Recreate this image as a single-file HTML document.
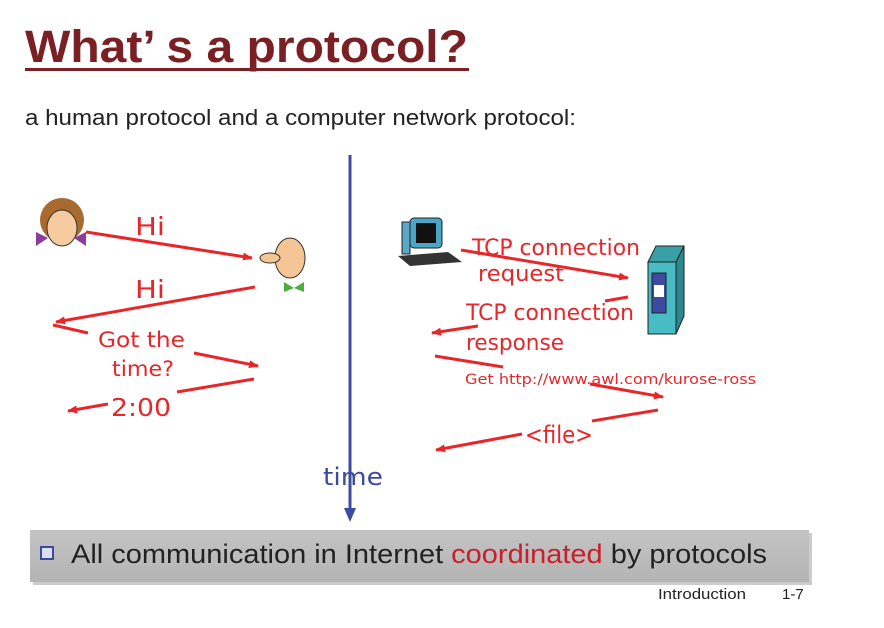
<!DOCTYPE html>
<html><head><meta charset="utf-8"><style>
html,body{margin:0;padding:0;background:#fff;width:884px;height:628px;overflow:hidden}
</style></head><body>
<svg width="884" height="628" viewBox="0 0 884 628" xmlns="http://www.w3.org/2000/svg">
<defs>
<marker id="ar" markerWidth="10" markerHeight="8" refX="9" refY="4" orient="auto" markerUnits="userSpaceOnUse"><path d="M0,0 L10,4 L0,8 z" fill="#e8262a"/></marker>
<linearGradient id="bn" x1="0" y1="0" x2="0" y2="1"><stop offset="0" stop-color="#c4c4c4"/><stop offset="1" stop-color="#b4b4b4"/></linearGradient>
</defs>
<text x="25" y="62" font-family="Liberation Sans, sans-serif" font-weight="bold" font-size="45" fill="#7a1f24" textLength="443" lengthAdjust="spacingAndGlyphs">What’ s a protocol?</text>
<rect x="25" y="68" width="444" height="3" fill="#7a1f24"/>
<text x="25" y="125" font-family="Liberation Sans, sans-serif" font-size="22" fill="#222" textLength="551" lengthAdjust="spacingAndGlyphs">a human protocol and a computer network protocol:</text>

<line x1="350" y1="155" x2="350" y2="510" stroke="#3c4aa0" stroke-width="3"/>
<path d="M344,508 L356,508 L350,522 z" fill="#3c4aa0"/>
<text x="323" y="485" font-family="DejaVu Sans, sans-serif" font-size="24" fill="#3c4aa0" textLength="60" lengthAdjust="spacingAndGlyphs">time</text>

<g>
<ellipse cx="62" cy="220" rx="22" ry="22" fill="#a86a2e"/>
<ellipse cx="62" cy="228" rx="15" ry="18" fill="#f6cba0" stroke="#333" stroke-width="1"/>
<path d="M36,232 L48,238 L36,246 z M86,232 L74,238 L86,246 z" fill="#8b3c9e"/>
</g>
<g>
<ellipse cx="290" cy="258" rx="15" ry="20" fill="#f6c596" stroke="#333" stroke-width="1"/>
<ellipse cx="270" cy="258" rx="10" ry="5" fill="#f6c596" stroke="#333" stroke-width="1"/>
<path d="M284,282 L294,288 L304,282 L304,292 L294,288 L284,292 z" fill="#4caf3a"/>
</g>

<g stroke="#e8262a" stroke-width="3" fill="none">
<line x1="86" y1="232" x2="252" y2="258" marker-end="url(#ar)"/>
<line x1="255" y1="287" x2="56" y2="322" marker-end="url(#ar)"/>
<line x1="53" y1="325" x2="88" y2="333"/>
<line x1="194" y1="353" x2="258" y2="366" marker-end="url(#ar)"/>
<line x1="254" y1="379" x2="177" y2="392"/>
<line x1="108" y1="404" x2="68" y2="411" marker-end="url(#ar)"/>
<line x1="461" y1="250" x2="628" y2="278" marker-end="url(#ar)"/>
<line x1="628" y1="297" x2="605" y2="301"/>
<line x1="478" y1="326" x2="432" y2="333" marker-end="url(#ar)"/>
<line x1="435" y1="356" x2="503" y2="367"/>
<line x1="590" y1="384" x2="663" y2="397" marker-end="url(#ar)"/>
<line x1="658" y1="410" x2="592" y2="421"/>
<line x1="522" y1="434" x2="436" y2="450" marker-end="url(#ar)"/>
</g>
<g font-family="DejaVu Sans, sans-serif" fill="#e8262a">
<text x="135" y="235" font-size="25" textLength="30" lengthAdjust="spacingAndGlyphs">Hi</text>
<text x="135" y="298" font-size="25" textLength="30" lengthAdjust="spacingAndGlyphs">Hi</text>
<text x="98" y="347" font-size="21" textLength="87" lengthAdjust="spacingAndGlyphs">Got the</text>
<text x="112" y="376" font-size="21" textLength="62" lengthAdjust="spacingAndGlyphs">time?</text>
<text x="111" y="416" font-size="25" textLength="60" lengthAdjust="spacingAndGlyphs">2:00</text>
<text x="472" y="255" font-size="22" textLength="168" lengthAdjust="spacingAndGlyphs">TCP connection</text>
<text x="478" y="281" font-size="22" textLength="86" lengthAdjust="spacingAndGlyphs">request</text>
<text x="466" y="320" font-size="22" textLength="168" lengthAdjust="spacingAndGlyphs">TCP connection</text>
<text x="466" y="350" font-size="22" textLength="98" lengthAdjust="spacingAndGlyphs">response</text>
<text x="465" y="384" font-size="14" textLength="291" lengthAdjust="spacingAndGlyphs">Get http://www.awl.com/kurose-ross</text>
<text x="525" y="443" font-size="24" textLength="68" lengthAdjust="spacingAndGlyphs">&lt;file&gt;</text>
</g>

<g>
<rect x="402" y="222" width="8" height="32" fill="#5aa8c8" stroke="#222"/>
<rect x="410" y="218" width="32" height="30" rx="4" fill="#4aa6c6" stroke="#222"/>
<rect x="416" y="223" width="20" height="20" fill="#111"/>
<path d="M398,256 L448,252 L462,262 L410,266 z" fill="#333"/>
</g>
<g>
<path d="M648,262 L656,246 L684,246 L676,262 z" fill="#3aa0a8" stroke="#222"/>
<path d="M676,262 L684,246 L684,316 L676,334 z" fill="#2a8890" stroke="#222"/>
<rect x="648" y="262" width="28" height="72" fill="#48bcc4" stroke="#222"/>
<rect x="652" y="273" width="14" height="40" fill="#3c4aa0" stroke="#222"/>
<rect x="654" y="285" width="10" height="12" fill="#fff"/>
</g>

<rect x="33" y="533" width="779" height="52" fill="#999" opacity="0.5"/>
<rect x="30" y="530" width="779" height="52" fill="url(#bn)"/>
<rect x="41" y="547" width="12" height="12" fill="#dde" stroke="#3c4aa0" stroke-width="2"/>
<text x="71" y="563" font-family="Liberation Sans, sans-serif" font-size="27" fill="#222" textLength="696" lengthAdjust="spacingAndGlyphs">All communication in Internet <tspan fill="#c8202a">coordinated</tspan> by protocols</text>
<text x="658" y="599" font-family="Liberation Sans, sans-serif" font-size="15" fill="#222" textLength="88" lengthAdjust="spacingAndGlyphs">Introduction</text>
<text x="782" y="599" font-family="Liberation Sans, sans-serif" font-size="15" fill="#222">1-7</text>
</svg>
</body></html>
